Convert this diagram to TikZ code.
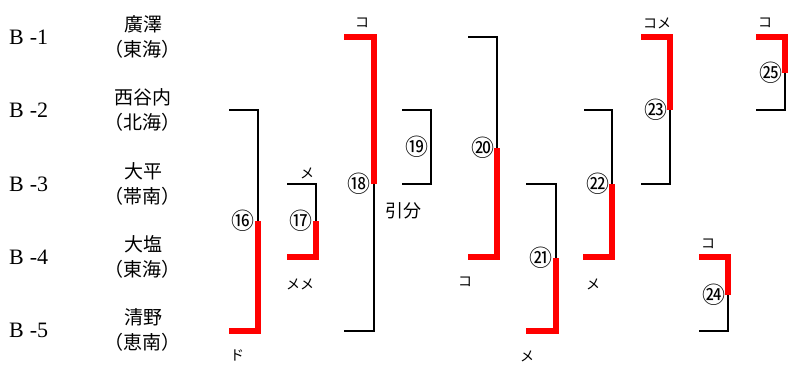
\documentclass[tikz,border=0pt]{standalone}
\usepackage{fontspec}
\setmainfont{Liberation Serif}
\newfontfamily\jp{Noto Sans CJK JP}
\begin{document}
\begin{tikzpicture}[x=1pt,y=-1pt,
  blk/.style={line width=1.6pt,black},
  win/.style={line width=6pt,red,line join=miter},
  lbl/.style={font=\fontsize{22}{22}\selectfont,inner sep=0pt},
  nm/.style={font=\jp\fontsize{19}{19}\selectfont,inner sep=0pt},
  num/.style={font=\jp\fontsize{23}{23}\selectfont,inner sep=0pt},
  kk/.style={font=\jp\fontsize{14}{14}\selectfont,inner sep=0pt}]
\useasboundingbox (0,0) rectangle (795,372);
% row labels and names
\foreach \r/\y/\a/\b in {1/37/廣澤/東海,2/110/西谷内/北海,3/184/大平/帯南,4/257/大塩/東海,5/330/清野/恵南}{
  \node[lbl,anchor=west] (b\r) at (9,\y) {B\hspace{6pt}-\r};
  \node[nm] (n\r) at (143,\y-13) {\a};
  \node[nm] (t\r) at (142,\y+12) {（\b）};
}
% match 16
\draw[blk] (229,110) -- (258,110) -- (258,221);
\draw[win] (258,221) -- (258,331) -- (229,331);
\node[num] (m16) at (243,221) {⑯};
% match 17
\draw[blk] (287,184) -- (316,184) -- (316,221);
\draw[win] (316,221) -- (316,257) -- (287,257);
\node[num] (m17) at (301,221) {⑰};
% match 18
\draw[win] (344,37) -- (374,37) -- (374,184);
\draw[blk] (374,184) -- (374,331) -- (344,331);
\node[num] (m18) at (359,184) {⑱};
% match 19
\draw[blk] (402,110) -- (431,110) -- (431,184) -- (402,184);
\node[num] (m19) at (417,147) {⑲};
% match 20
\draw[blk] (468,37) -- (497,37) -- (497,148);
\draw[win] (497,148) -- (497,257) -- (468,257);
\node[num] (m20) at (483,148) {⑳};
% match 21
\draw[blk] (526,184) -- (556,184) -- (556,258);
\draw[win] (556,258) -- (556,331) -- (526,331);
\node[num] (m21) at (541,258) {㉑};
% match 22
\draw[blk] (584,110) -- (612,110) -- (612,184);
\draw[win] (612,184) -- (612,257) -- (583,257);
\node[num] (m22) at (598,184) {㉒};
% match 23
\draw[win] (641,37) -- (670,37) -- (670,110);
\draw[blk] (670,110) -- (670,184) -- (641,184);
\node[num] (m23) at (656,110) {㉓};
% match 24
\draw[win] (699,257) -- (728,257) -- (728,295);
\draw[blk] (728,295) -- (728,331) -- (699,331);
\node[num] (m24) at (714,295) {㉔};
% match 25
\draw[win] (756,37) -- (785,37) -- (785,73);
\draw[blk] (785,73) -- (785,110) -- (756,110);
\node[num] (m25) at (771,73) {㉕};
% result marks
\node[kk] (k16) at (237,355) {ド};
\node[kk] (k17a) at (307,173) {メ};
\node[kk] (k17b) at (300,284) {メメ};
\node[kk] (k18) at (362,23) {コ};
\node[nm,font=\jp\fontsize{18}{18}\selectfont] (k19) at (403,211) {引分};
\node[kk] (k20) at (465,282) {コ};
\node[kk] (k21) at (527,356) {メ};
\node[kk] (k22) at (593,284) {メ};
\node[kk] (k23) at (657,23) {コメ};
\node[kk] (k24) at (708,244) {コ};
\node[kk] (k25) at (765,23) {コ};
\end{tikzpicture}
\end{document}
